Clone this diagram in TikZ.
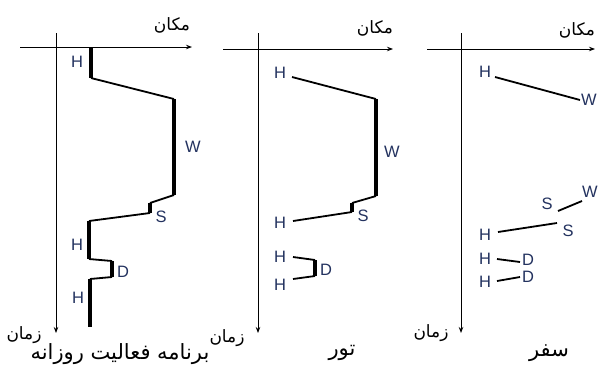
\documentclass[tikz,border=0pt]{standalone}
\usepackage{fontspec}
\setmainfont{Liberation Sans}
\newfontfamily\farsi[Script=Arabic]{DejaVu Sans}
\TeXXeTstate=1
\usetikzlibrary{arrows.meta}
\definecolor{lbl}{RGB}{35,50,95}

\begin{document}
\begin{tikzpicture}[x=1pt,y=-1pt,
  axis/.style={line width=0.9pt,-{Stealth[length=6pt,width=4.5pt]}},
  move/.style={line width=1.8pt},
  stay/.style={line width=4.2pt},
  stayb/.style={line width=3.2pt},
  act/.style={text=lbl,font=\fontsize{16.5}{16.5}\selectfont,inner sep=0pt},
  fa/.style={font=\farsi\fontsize{17}{17}\selectfont,inner sep=0pt},
  ttl/.style={font=\farsi\fontsize{21}{21}\selectfont,inner sep=0pt}]
\useasboundingbox (0,0) rectangle (601,368);

% ---------- daily activity programme ----------
\coordinate (xa1) at (20,47);  \coordinate (xb1) at (192,47);
\coordinate (ya1) at (56,33);  \coordinate (yb1) at (56,333);
\draw[axis] (xa1) -- (xb1);
\draw[axis] (ya1) -- (yb1);
\node[fa] (pl1) at (172,25) {\beginR مکان\endR};
\node[fa] (tm1) at (24,335) {\beginR زمان\endR};
\node[ttl] (tt1) at (120,354) {\beginR برنامه فعالیت روزانه\endR};

\coordinate (a1) at (91,47);   \coordinate (a2) at (91,78);
\coordinate (a3) at (174,99);  \coordinate (a4) at (174,195);
\coordinate (a5) at (150,203); \coordinate (a6) at (150,213);
\coordinate (a7) at (89,221);  \coordinate (a8) at (89,259);
\coordinate (a9) at (112,261); \coordinate (a10) at (112,277);
\coordinate (a11) at (90,279); \coordinate (a12) at (90,327);
\draw[move] (a2) -- (a3) (a4) -- (a5) (a6) -- (a7) (a8) -- (a9) (a10) -- (a11);
\draw[stay] (a1) -- (a2) (a3) -- (a4) (a7) -- (a8) (a9) -- (a10) (a11) -- (a12);
\draw[stayb] (a5) -- (a6);
\node[act] (h11) at (77,62) {H};
\node[act] (w11) at (193,147) {W};
\node[act] (s11) at (161,217) {S};
\node[act] (h12) at (77,245) {H};
\node[act] (d11) at (123,272) {D};
\node[act] (h13) at (78,298) {H};

% ---------- tour ----------
\coordinate (xa2) at (223,49); \coordinate (xb2) at (393,49);
\coordinate (ya2) at (258,33); \coordinate (yb2) at (258,333);
\draw[axis] (xa2) -- (xb2);
\draw[axis] (ya2) -- (yb2);
\node[fa] (pl2) at (375,28) {\beginR مکان\endR};
\node[fa] (tm2) at (227,338) {\beginR زمان\endR};
\node[ttl] (tt2) at (342,353) {\beginR تور\endR};

\coordinate (b1) at (292,77);  \coordinate (b2) at (376,99);
\coordinate (b3) at (376,196); \coordinate (b4) at (352,203);
\coordinate (b5) at (352,212); \coordinate (b6) at (293,221);
\coordinate (c1) at (293,257); \coordinate (c2) at (315,260);
\coordinate (c3) at (315,276); \coordinate (c4) at (293,279);
\draw[move] (b1) -- (b2) (b3) -- (b4) (b5) -- (b6) (c1) -- (c2) (c3) -- (c4);
\draw[stayb] (b2) -- (b3) (b4) -- (b5) (c2) -- (c3);
\node[act] (h21) at (280,73) {H};
\node[act] (w21) at (392,152) {W};
\node[act] (s21) at (363,216) {S};
\node[act] (h22) at (280,223) {H};
\node[act] (h23) at (280,257) {H};
\node[act] (d21) at (326,270) {D};
\node[act] (h24) at (280,285) {H};

% ---------- trip ----------
\coordinate (xa3) at (427,49); \coordinate (xb3) at (595,49);
\coordinate (ya3) at (461,33); \coordinate (yb3) at (461,333);
\draw[axis] (xa3) -- (xb3);
\draw[axis] (ya3) -- (yb3);
\node[fa] (pl3) at (577,30) {\beginR مکان\endR};
\node[fa] (tm3) at (431,333) {\beginR زمان\endR};
\node[ttl] (tt3) at (549,353) {\beginR سفر\endR};

\node[act] (h31) at (485,72) {H};
\node[act] (w31) at (589,100) {W};
\node[act] (w32) at (590,192) {W};
\node[act] (s31) at (547,204) {S};
\node[act] (h32) at (485,235) {H};
\node[act] (s32) at (568,231) {S};
\node[act] (h33) at (485,259) {H};
\node[act] (d31) at (528,260) {D};
\node[act] (h34) at (485,282) {H};
\node[act] (d32) at (528,277) {D};
\coordinate (t1) at (495,77);  \coordinate (t2) at (580,100);
\coordinate (t3) at (558,211); \coordinate (t4) at (582,201);
\coordinate (t5) at (498,232); \coordinate (t6) at (557,223);
\coordinate (t7) at (497,259); \coordinate (t8) at (520,262);
\coordinate (t9) at (497,281); \coordinate (t10) at (520,277);
\draw[move] (t1) -- (t2) (t3) -- (t4) (t5) -- (t6) (t7) -- (t8) (t9) -- (t10);
\end{tikzpicture}
\end{document}
